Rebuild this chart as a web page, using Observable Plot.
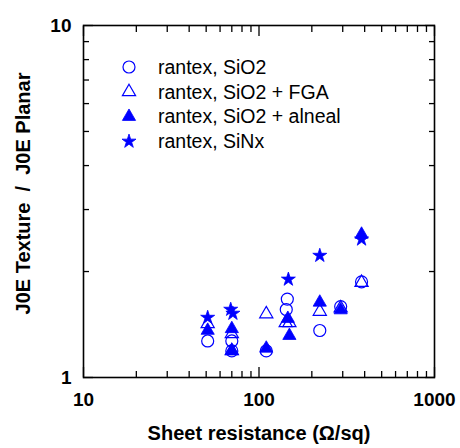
<!DOCTYPE html>
<html>
<head>
<meta charset="utf-8">
<script src="https://cdn.jsdelivr.net/npm/d3@7"></script>
<script src="https://cdn.jsdelivr.net/npm/@observablehq/plot@0.6"></script>
<style>
  html, body { margin: 0; padding: 0; background: #fff; }
  #chart { width: 460px; height: 448px; }
</style>
</head>
<body>
<div id="chart"></div>
<script>
// ---- data ----
const seriesNames = ["rantex, SiO2", "rantex, SiO2 + FGA", "rantex, SiO2 + alneal", "rantex, SiNx"];

const sio2X = [51, 70, 70, 110, 145, 143, 222, 292, 384];
const sio2Y = [1.27, 1.27, 1.19, 1.19, 1.67, 1.56, 1.36, 1.59, 1.87];

const fgaX = [51, 70, 70, 110, 142, 149, 222, 292, 384];
const fgaY = [1.42, 1.33, 1.19, 1.515, 1.43, 1.43, 1.54, 1.575, 1.86];

const alnealX = [51, 70, 70, 110, 146, 149, 222, 292, 384];
const alnealY = [1.36, 1.375, 1.19, 1.21, 1.47, 1.315, 1.635, 1.555, 2.55];

const sinxX = [51, 69, 71, 147, 222, 384];
const sinxY = [1.48, 1.56, 1.52, 1.90, 2.22, 2.47];

const xMajorTicks = [10, 100, 1000];
const xMinorTicks = [20, 30, 40, 50, 60, 70, 80, 90, 200, 300, 400, 500, 600, 700, 800, 900];
const yMajorTicks = [1, 10];
const yMinorTicks = [2, 3, 4, 5, 6, 7, 8, 9];

const xTitle = "Sheet resistance (Ω/sq)";
const yTitle = "J0E Texture  /  J0E Planar";

// ---- build ----
const toRows = (xs, ys) => xs.map((x, i) => ({x, y: ys[i]}));
const sio2 = toRows(sio2X, sio2Y);
const fga = toRows(fgaX, fgaY);
const alneal = toRows(alnealX, alnealY);
const sinx = toRows(sinxX, sinxY);

const BLUE = "#0000ff";
const FONT = "'Liberation Sans', Arial, Helvetica, sans-serif";
const rCircle = 6, rTri = 4.9, rStar = 4.4;

const tickAxes = [];
for (const anchor of ["bottom", "top"]) {
  tickAxes.push(Plot.axisX({anchor, ticks: xMajorTicks, tickSize: -10, tickFormat: () => "", label: null, strokeWidth: 1.3}));
  tickAxes.push(Plot.axisX({anchor, ticks: xMinorTicks, tickSize: -6, tickFormat: () => "", label: null, strokeWidth: 1.3}));
}
for (const anchor of ["left", "right"]) {
  tickAxes.push(Plot.axisY({anchor, ticks: yMajorTicks, tickSize: -10, tickFormat: () => "", label: null, strokeWidth: 1.3}));
  tickAxes.push(Plot.axisY({anchor, ticks: yMinorTicks, tickSize: -6, tickFormat: () => "", label: null, strokeWidth: 1.3}));
}

const chart = Plot.plot({
  width: 460,
  height: 448,
  marginLeft: 83,
  marginRight: 26,
  marginTop: 25,
  marginBottom: 71,
  style: {fontFamily: FONT, background: "#fff", color: "#000"},
  x: {type: "log", domain: [10, 1000]},
  y: {type: "log", domain: [1, 10]},
  marks: [
    ...tickAxes,
    Plot.axisX({anchor: "bottom", ticks: xMajorTicks, tickSize: 0, tickPadding: 15, tickFormat: d => String(d), label: null, fontSize: 19, fontWeight: "bold"}),
    Plot.axisY({anchor: "left", ticks: yMajorTicks, tickSize: 0, tickPadding: 12, tickFormat: d => String(d), label: null, fontSize: 19, fontWeight: "bold"}),
    Plot.frame({stroke: "#000", strokeWidth: 1.6}),
    Plot.dot(sio2, {x: "x", y: "y", symbol: "circle", r: rCircle, stroke: BLUE, fill: "none", strokeWidth: 1.2}),
    Plot.dot(fga, {x: "x", y: "y", symbol: "triangle", r: rTri, stroke: BLUE, fill: "none", strokeWidth: 1.2}),
    Plot.dot(alneal, {x: "x", y: "y", symbol: "triangle", r: rTri, fill: BLUE, stroke: BLUE, strokeWidth: 0.8}),
    Plot.dot(sinx, {x: "x", y: "y", symbol: "star", r: rStar, fill: BLUE, stroke: BLUE, strokeWidth: 0.8}),
    Plot.text([xTitle], {frameAnchor: "bottom", dy: 62, text: d => d, textAnchor: "middle", fontSize: 20, fontWeight: "bold", fill: "#000"}),
    Plot.text([yTitle], {frameAnchor: "left", dx: -60, dy: -8, rotate: -90, text: d => d, textAnchor: "middle", fontSize: 20, fontWeight: "bold", fill: "#000"})
  ]
});

document.getElementById("chart").appendChild(chart);

// ---- legend (inside plot area, top-left) ----
const svg = d3.select(chart);
svg.selectAll("text").style("white-space", "pre");
const legend = svg.append("g").attr("class", "legend").attr("text-anchor", "start");
const legendSpecs = [
  {name: seriesNames[0], sym: d3.symbolCircle, r: rCircle, filled: false},
  {name: seriesNames[1], sym: d3.symbolTriangle, r: rTri, filled: false},
  {name: seriesNames[2], sym: d3.symbolTriangle, r: rTri, filled: true},
  {name: seriesNames[3], sym: d3.symbolStar, r: rStar, filled: true}
];
const lx = 129, tx = 158, ly0 = 67, lstep = 24.8;
legendSpecs.forEach((s, i) => {
  const y = ly0 + i * lstep;
  legend.append("path")
    .attr("transform", `translate(${lx},${y})`)
    .attr("d", d3.symbol(s.sym, s.r * s.r * Math.PI)())
    .attr("fill", s.filled ? BLUE : "none")
    .attr("stroke", BLUE)
    .attr("stroke-width", s.filled ? 0.8 : 1.2);
  legend.append("text")
    .attr("x", tx)
    .attr("y", y)
    .attr("dy", "0.35em")
    .attr("text-anchor", "start")
    .attr("font-family", FONT)
    .attr("font-size", 19.5)
    .attr("fill", "#000")
    .text(s.name);
});
</script>
</body>
</html>
